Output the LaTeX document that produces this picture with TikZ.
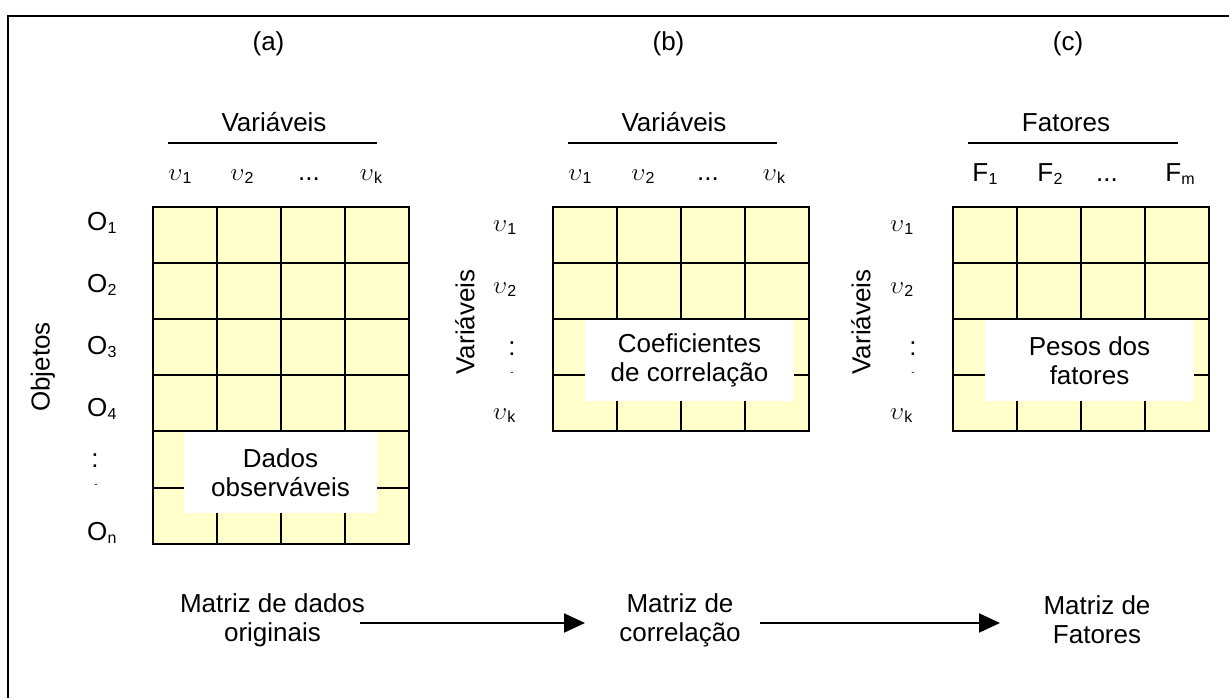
\documentclass[tikz,border=0pt]{standalone}
\usepackage{fontspec}
\setmainfont{Liberation Sans}
\usetikzlibrary{arrows.meta}
\definecolor{cellfill}{HTML}{FFFFCC}
\newcommand{\mysub}[1]{\kern0.3pt\lower3pt\hbox{\fontsize{16}{16}\selectfont #1}}
\newcommand{\ups}{{\fontsize{30}{30}\selectfont$\upsilon$}}
\begin{document}
\begin{tikzpicture}[x=1pt,y=-1pt,
  every node/.style={inner sep=0pt, outer sep=0pt},
  txt/.style={font=\fontsize{26}{29}\selectfont},
  gl/.style={line width=2pt},
  cellbox/.style={fill=cellfill, draw=black, line width=2pt},
  wbox/.style={fill=white, align=center, font=\fontsize{26}{29}\selectfont},
  arr/.style={line width=2pt, -{Triangle[length=21pt,width=19pt]}},
  hline/.style={line width=1.8pt},
  tinymark/.style={font=\fontsize{10}{10}\selectfont}]
\useasboundingbox (0,0) rectangle (1229,698);
% frame
\draw[line width=2pt] (8,698) -- (8,16) -- (1229,16);

% ---------- grids ----------
\foreach \gx/\nr in {153/6, 553/4, 953/4} {
  \filldraw[cellbox] (\gx,207) rectangle (\gx+256,207+56.1*\nr);
  \foreach \i in {1,2,3} \draw[gl] (\gx+64*\i,207) -- (\gx+64*\i,207+56.1*\nr);
  \pgfmathtruncatemacro{\last}{\nr-1}
  \foreach \j in {1,...,\last} \draw[gl] (\gx,207+56.1*\j) -- (\gx+256,207+56.1*\j);
  \draw[gl] (\gx,207) rectangle (\gx+256,207+56.1*\nr);
}

% white boxes
\node[wbox, minimum width=193pt, minimum height=81pt] (wa) at (280.5,472.5) {Dados\\observáveis};
\node[wbox, minimum width=209pt, minimum height=81pt] (wb) at (689.5,360.5) {Coeficientes\\de correlação};
\node[wbox, minimum width=209pt, minimum height=81pt] (wc) at (1089.5,360.5) {Pesos dos\\fatores};

% ---------- titles ----------
\node[txt] (ta) at (268.5,44) {(a)};
\node[txt] (tb) at (668.5,44) {(b)};
\node[txt] (tc) at (1068,44) {(c)};

% headers
\node[txt, anchor=base] (ha) at (274,132) {Variáveis};
\node[txt, anchor=base] (hb) at (674,132) {Variáveis};
\node[txt, anchor=base] (hc) at (1066,132) {Fatores};
\coordinate (la1) at (168,143); \coordinate (la2) at (377,143);
\coordinate (lb1) at (568,143); \coordinate (lb2) at (777,143);
\coordinate (lc1) at (968,143); \coordinate (lc2) at (1178,143);
\draw[hline] (la1) -- (la2);
\draw[hline] (lb1) -- (lb2);
\draw[hline] (lc1) -- (lc2);

% column labels
\node[txt, anchor=base] (ca1) at (180,180) {\ups\mysub{1}};
\node[txt, anchor=base] (ca2) at (242,180) {\ups\mysub{2}};
\node[txt, anchor=base] (ca3) at (309,180) {...};
\node[txt, anchor=base] (ca4) at (371,180) {\ups\mysub{k}};
\node[txt, anchor=base] (cb1) at (580,180) {\ups\mysub{1}};
\node[txt, anchor=base] (cb2) at (643,180) {\ups\mysub{2}};
\node[txt, anchor=base] (cb3) at (708,180) {...};
\node[txt, anchor=base] (cb4) at (774,180) {\ups\mysub{k}};
\node[txt, anchor=base] (cc1) at (985,182) {F\mysub{1}};
\node[txt, anchor=base] (cc2) at (1050,182) {F\mysub{2}};
\node[txt, anchor=base] (cc3) at (1107,182) {...};
\node[txt, anchor=base] (cc4) at (1180,182) {F\mysub{m}};

% row labels (a)
\node[txt, anchor=base west] (ra1) at (87,230) {O\mysub{1}};
\node[txt, anchor=base west] (ra2) at (87,292) {O\mysub{2}};
\node[txt, anchor=base west] (ra3) at (87,354) {O\mysub{3}};
\node[txt, anchor=base west] (ra4) at (87,416) {O\mysub{4}};
\node[txt, anchor=base] (ra5) at (95,467) {:};
\node[tinymark] (ra6) at (96,486) {-};
\node[txt, anchor=base west] (ra7) at (87,540) {O\mysub{n}};

% row labels (b)
\node[txt, anchor=base west] (rb1) at (493,231) {\ups\mysub{1}};
\node[txt, anchor=base west] (rb2) at (493,293) {\ups\mysub{2}};
\node[txt, anchor=base] (rb3) at (512,355) {:};
\node[tinymark] (rb4) at (512,374) {-};
\node[txt, anchor=base west] (rb5) at (493,419) {\ups\mysub{k}};

% row labels (c)
\node[txt, anchor=base west] (rc1) at (890,231) {\ups\mysub{1}};
\node[txt, anchor=base west] (rc2) at (890,293) {\ups\mysub{2}};
\node[txt, anchor=base] (rc3) at (913,355) {:};
\node[tinymark] (rc4) at (913,374) {-};
\node[txt, anchor=base west] (rc5) at (890,419) {\ups\mysub{k}};

% rotated labels
\node[txt, rotate=90] (oa) at (43,367) {Objetos};
\node[txt, rotate=90] (ob) at (465,322) {Variáveis};
\node[txt, rotate=90] (oc) at (861,322) {Variáveis};

% ---------- bottom ----------
\node[txt, align=center] (ma) at (272.5,620) {Matriz de dados\\originais};
\node[txt, align=center] (mb) at (680,620) {Matriz de\\correlação};
\node[txt, align=center] (mc) at (1097,620) {Matriz de\\Fatores};
\coordinate (a1s) at (360,623); \coordinate (a1e) at (585,623);
\coordinate (a2s) at (760,623); \coordinate (a2e) at (1000,623);
\draw[arr] (a1s) -- (a1e);
\draw[arr] (a2s) -- (a2e);
\end{tikzpicture}
\end{document}
